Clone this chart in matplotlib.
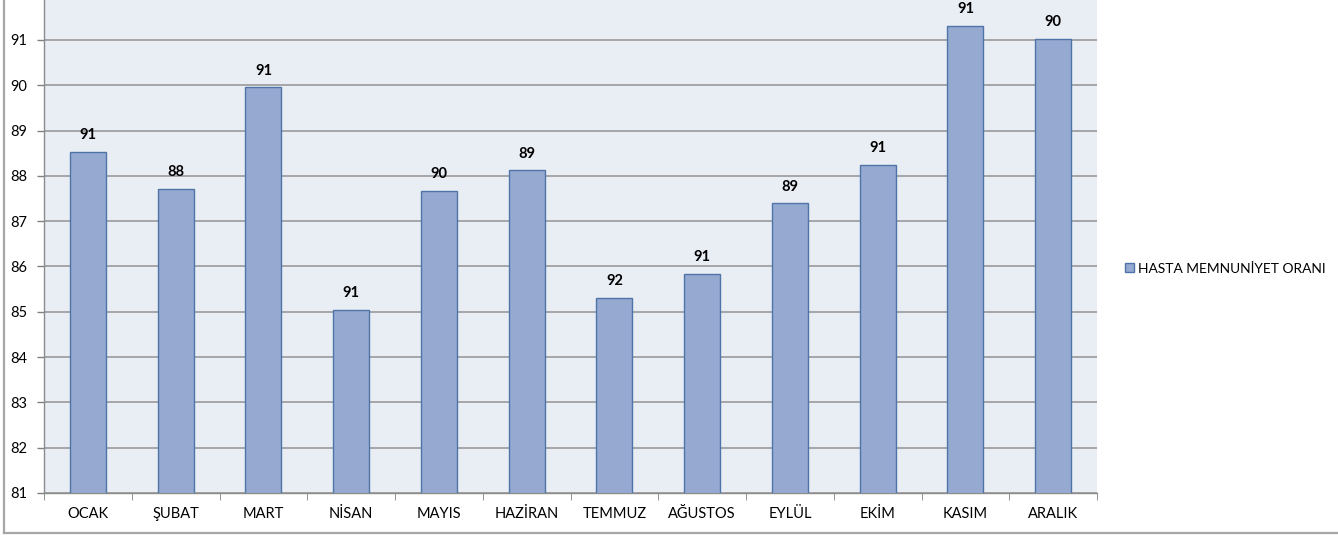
import matplotlib.pyplot as plt
from matplotlib.lines import Line2D

# months and monthly satisfaction data
months = ['OCAK', 'ŞUBAT', 'MART', 'NİSAN', 'MAYIS', 'HAZİRAN',
          'TEMMUZ', 'AĞUSTOS', 'EYLÜL', 'EKİM', 'KASIM', 'ARALIK']
bar_values = [88.53, 87.72, 89.95, 85.04, 87.66, 88.12,
              85.30, 85.84, 87.39, 88.24, 91.31, 91.02]
label_values = [91, 88, 91, 91, 90, 89, 92, 91, 89, 91, 91, 90]
series_name = 'HASTA MEMNUNİYET ORANI'
y_ticks = list(range(81, 92))

plt.rcParams['font.family'] = ['Lato', 'DejaVu Sans']

fig = plt.figure(figsize=(13.38, 5.39), dpi=100)
ax = fig.add_axes([44 / 1338, 46 / 539, 1053 / 1338, 493 / 539])
ax.set_facecolor('#E9EDF4')

x = range(len(months))
bars = ax.bar(x, bar_values, width=0.41, bottom=0,
              color='#95A9D1', edgecolor='#4F74A8', linewidth=1.0,
              label=series_name, zorder=3)

# value labels above each bar
for xi, v, lab in zip(x, bar_values, label_values):
    ax.annotate(str(lab), (xi, v), xytext=(0, 7), textcoords='offset points',
                ha='center', va='bottom', fontsize=10.5, fontweight='bold',
                color='black', zorder=4)

ax.set_ylim(81, 91.88)
ax.set_xlim(-0.5, len(months) - 0.5)
ax.set_yticks(y_ticks)
ax.set_xticks(x)
ax.set_xticklabels(months)
ax.tick_params(axis='both', labelsize=10.5, colors='#808080', labelcolor='black',
               length=5, width=1)
ax.tick_params(axis='x', pad=10)
ax.tick_params(axis='y', pad=7)

# category separators on the x axis
ax.set_xticks([i - 0.5 for i in range(len(months) + 1)], minor=True)
ax.tick_params(axis='x', which='major', length=0)
ax.tick_params(axis='x', which='minor', length=5, color='#808080')

ax.grid(axis='y', color='#9A9A9A', linewidth=1.2, zorder=0)
for side in ['top', 'right']:
    ax.spines[side].set_visible(False)
for side in ['left', 'bottom']:
    ax.spines[side].set_color('#8C8C8C')
    ax.spines[side].set_linewidth(1.0)

ax.legend(handles=[bars], labels=[series_name], loc='center left',
          bbox_to_anchor=(1.015, 0.455), frameon=False, fontsize=9.9,
          handlelength=0.65, handleheight=0.65, handletextpad=0.3)

# outer chart frame
fig.add_artist(Line2D([3.5 / 1338, 3.5 / 1338], [6 / 539, 1], color='#A6A6A6',
                      linewidth=1.6, transform=fig.transFigure))
fig.add_artist(Line2D([3.5 / 1338, 1], [6 / 539, 6 / 539], color='#A6A6A6',
                      linewidth=1.6, transform=fig.transFigure))

fig.savefig('out.png', dpi=100)
